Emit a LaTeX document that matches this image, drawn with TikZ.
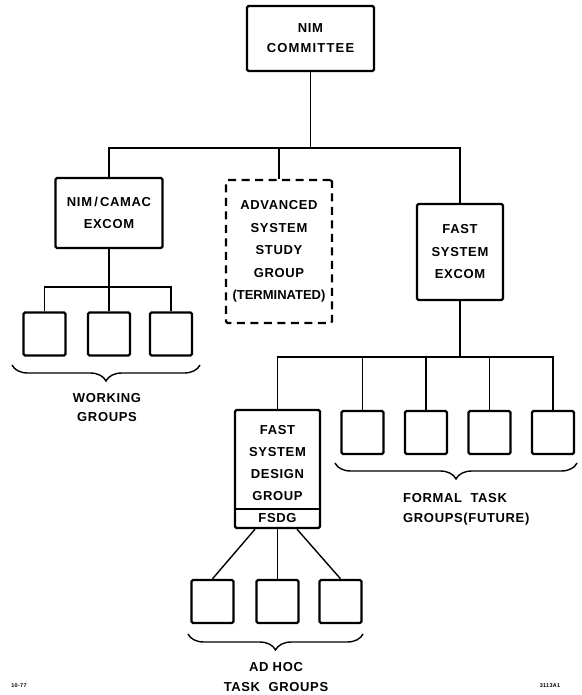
\documentclass[tikz,border=0pt]{standalone}
\usepackage{fontspec}
\setmainfont{Liberation Sans}[LetterSpace=5]
\usetikzlibrary{decorations.pathreplacing}
\begin{document}
\begin{tikzpicture}[x=1pt,y=-1pt,
  box/.style={draw, line width=2.4pt, rounded corners=1.5pt, inner sep=0pt, align=center,
    font=\fontsize{13}{22.5}\bfseries\selectfont},
  dashbox/.style={box, dash pattern=on 8pt off 5.5pt, line width=2.2pt},
  sq/.style={draw, line width=2.4pt, rounded corners=1.5pt, minimum width=42pt, minimum height=43pt, inner sep=0pt},
  conn/.style={line width=1.4pt},
  lbl/.style={align=center, inner sep=0pt, font=\fontsize{13}{19.5}\bfseries\selectfont},
  txt/.style={align=center, inner sep=0pt, font=\fontsize{13}{22}\bfseries\selectfont},
  tiny/.style={inner sep=0pt, font=\fontsize{5.5}{6}\bfseries\selectfont},
  brc/.style={decorate, decoration={brace, mirror, amplitude=16pt}, line width=1.4pt}
]
\useasboundingbox (0,0) rectangle (581,695);

% main boxes
\node[box, minimum width=127pt, minimum height=65pt, font=\fontsize{13}{20}\bfseries\selectfont] (nim) at (310.5,38.5) {NIM\\{\addfontfeature{LetterSpace=9}COMMITTEE}};
\node[box, minimum width=107pt, minimum height=70pt] (camac) at (109,213) {NIM\,/\,CAMAC\\EXCOM};
\node[dashbox, minimum width=106pt, minimum height=143pt] (adv) at (279,251.5)
  {ADVANCED\\SYSTEM\\STUDY\\GROUP\\{\addfontfeature{LetterSpace=0}(TERMINATED)}};
\node[box, minimum width=86pt, minimum height=96pt] (fse) at (460,252) {FAST\\SYSTEM\\EXCOM};

% FSDG box
\node[box, minimum width=85pt, minimum height=118pt] (fsdg) at (277.5,469) {};
\node[txt] (fsdgtxt) at (277.5,463.5) {FAST\\SYSTEM\\DESIGN\\GROUP};
\node[txt] (fsdgab) at (277.5,518.5) {FSDG};
\draw[line width=1.5pt] ([yshift=20pt]fsdg.south west) -- ([yshift=20pt]fsdg.south east);

% working groups
\node[sq] (wg1) at (44.5,334) {};
\node[sq] (wg2) at (109,334) {};
\node[sq] (wg3) at (171,334) {};

% formal task groups
\node[sq] (ft1) at (362.5,432.5) {};
\node[sq] (ft2) at (426,432.5) {};
\node[sq] (ft3) at (489.5,432.5) {};
\node[sq] (ft4) at (553,432.5) {};

% ad hoc task groups
\node[sq] (ah1) at (212.5,601.5) {};
\node[sq] (ah2) at (277.5,601.5) {};
\node[sq] (ah3) at (340.5,601.5) {};

% connectors
\coordinate (j1) at (310.5,148);
\draw[conn] (nim.south) -- (j1);
\draw[conn] (camac.north) |- (j1) -| (fse.north);
\draw[conn] (adv.north) -- (adv.north |- j1);

\coordinate (j2) at (109,287);
\draw[conn] (camac.south) -- (wg2.north);
\draw[conn] (wg1.north) |- (j2) -| (wg3.north);

\coordinate (j3) at (460,357);
\draw[conn] (fse.south) -- (j3);
\draw[conn] (fsdg.north) |- (j3) -| (ft4.north);
\draw[conn] (ft1.north) -- (ft1.north |- j3);
\draw[conn] (ft2.north) -- (ft2.north |- j3);
\draw[conn] (ft3.north) -- (ft3.north |- j3);

\draw[conn] ([xshift=-22.5pt]fsdg.south) -- (ah1.north);
\draw[conn] (fsdg.south) -- (ah2.north);
\draw[conn] ([xshift=19.5pt]fsdg.south) -- (ah3.north);

% braces
\draw[brc] (12,365) -- (200,365);
\draw[brc] (335,463) -- (577,463);
\draw[brc] (188,634) -- (363,634);

% labels
\node[lbl] (wglbl) at (107,407.5) {WORKING\\GROUPS};
\node[lbl, anchor=west, align=left] (ftlbl) at (403,509.5) {FORMAL\ \ TASK\\GROUPS(FUTURE)};
\node[lbl] (ahlbl) at (276,677) {AD HOC\\TASK\ \ GROUPS};

\node[tiny] (date) at (19,686) {10-77};
\node[tiny] (code) at (550,686) {3113A1};
\end{tikzpicture}
\end{document}
